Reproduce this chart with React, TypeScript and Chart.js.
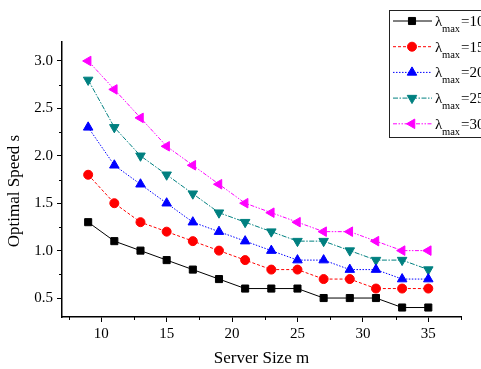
import React, { useEffect, useRef } from "react";
import { Chart, registerables } from "chart.js";
import { drawPoint } from "chart.js/helpers";

Chart.register(...registerables);

const xValues = [9, 11, 13, 15, 17, 19, 21, 23, 25, 27, 29, 31, 33, 35];
const lambda10 = [1.3, 1.1, 1.0, 0.9, 0.8, 0.7, 0.6, 0.6, 0.6, 0.5, 0.5, 0.5, 0.4, 0.4];
const lambda15 = [1.8, 1.5, 1.3, 1.2, 1.1, 1.0, 0.9, 0.8, 0.8, 0.7, 0.7, 0.6, 0.6, 0.6];
const lambda20 = [2.3, 1.9, 1.7, 1.5, 1.3, 1.2, 1.1, 1.0, 0.9, 0.9, 0.8, 0.8, 0.7, 0.7];
const lambda25 = [2.8, 2.3, 2.0, 1.8, 1.6, 1.4, 1.3, 1.2, 1.1, 1.1, 1.0, 0.9, 0.9, 0.8];
const lambda30 = [3.0, 2.7, 2.4, 2.1, 1.9, 1.7, 1.5, 1.4, 1.3, 1.2, 1.2, 1.1, 1.0, 1.0];
const lambdaLabels = ["10", "15", "20", "25", "30"];

const xMajorTicks = [10, 15, 20, 25, 30, 35];
const xMinorTicks = [7.5, 12.5, 17.5, 22.5, 27.5, 32.5, 37.5];
const yMajorTicks = [0.5, 1.0, 1.5, 2.0, 2.5, 3.0];
const yMinorTicks = [0.75, 1.25, 1.75, 2.25, 2.75];

const xTitle = "Server Size m";
const yTitle = "Optimal Speed s";

const SERIF = "'Liberation Serif', 'Times New Roman', serif";

const seriesValues = [lambda10, lambda15, lambda20, lambda25, lambda30];
const seriesStyles = [
  { color: "#000000", dash: [] as number[], point: "rect", radius: 5, rot: 0 },
  { color: "#ff0000", dash: [3, 2], point: "circle", radius: 4.5, rot: 0 },
  { color: "#0000ff", dash: [1.5, 1.5], point: "triangle", radius: 5.5, rot: 0 },
  { color: "#008080", dash: [5, 1.5, 1.5, 1.5], point: "triangle", radius: 5.5, rot: 180 },
  { color: "#ff00ff", dash: [4, 1.5, 1.5, 1.5, 1.5, 1.5], point: "triangle", radius: 5.5, rot: 270 },
];

const minorTicksPlugin = {
  id: "minorTicks",
  afterDraw(chart: any) {
    const ctx = chart.ctx;
    const xs = chart.scales.x;
    const ys = chart.scales.y;
    ctx.save();
    ctx.strokeStyle = "#000";
    ctx.lineWidth = 1;
    ctx.beginPath();
    xMinorTicks.forEach((v) => {
      const px = Math.round(xs.getPixelForValue(v)) + 0.5;
      ctx.moveTo(px, xs.top);
      ctx.lineTo(px, xs.top + 3);
    });
    yMinorTicks.forEach((v) => {
      const py = Math.round(ys.getPixelForValue(v)) + 0.5;
      ctx.moveTo(ys.right, py);
      ctx.lineTo(ys.right - 3, py);
    });
    ctx.stroke();
    // y title
    ctx.fillStyle = "#000";
    ctx.font = `17px ${SERIF}`;
    ctx.textAlign = "center";
    ctx.textBaseline = "middle";
    ctx.translate(15, 191);
    ctx.rotate(-Math.PI / 2);
    ctx.fillText(yTitle, 0, 0);
    ctx.restore();
  },
};

const legendPlugin = {
  id: "customLegend",
  afterDraw(chart: any) {
    const ctx = chart.ctx;
    ctx.save();
    ctx.strokeStyle = "#222";
    ctx.lineWidth = 1;
    ctx.strokeRect(389.5, 10.5, 120, 127);
    chart.data.datasets.forEach((ds: any, i: number) => {
      const y = 21 + i * 25.7;
      ctx.save();
      ctx.strokeStyle = ds.borderColor;
      ctx.lineWidth = 1;
      ctx.setLineDash(ds.borderDash || []);
      ctx.beginPath();
      ctx.moveTo(393, y);
      ctx.lineTo(432, y);
      ctx.stroke();
      ctx.restore();
      ctx.save();
      ctx.fillStyle = ds.pointBackgroundColor;
      ctx.strokeStyle = ds.pointBorderColor;
      ctx.lineWidth = 1;
      drawPoint(ctx, { pointStyle: ds.pointStyle, rotation: ds.pointRotation, radius: ds.pointRadius, borderWidth: 1 }, 412, y);
      ctx.restore();
      ctx.fillStyle = "#000";
      ctx.textAlign = "left";
      ctx.textBaseline = "alphabetic";
      ctx.font = `15px ${SERIF}`;
      ctx.fillText("\u03bb", 435, y + 5);
      ctx.font = `10.5px ${SERIF}`;
      ctx.fillText("max", 442, y + 11);
      ctx.font = `15px ${SERIF}`;
      ctx.fillText("=" + lambdaLabels[i], 461, y + 5);
    });
    ctx.restore();
  },
};

export default function App() {
  const ref = useRef<HTMLCanvasElement>(null);
  useEffect(() => {
    if (!ref.current) return;
    const datasets = seriesValues.map((vals, i) => {
      const s = seriesStyles[i];
      return {
        label: "\u03bbmax=" + lambdaLabels[i],
        data: vals.map((v, j) => ({ x: xValues[j], y: v })),
        borderColor: s.color,
        backgroundColor: s.color,
        borderWidth: 1,
        borderDash: s.dash,
        pointStyle: s.point,
        pointRadius: s.radius,
        pointRotation: s.rot,
        pointBackgroundColor: s.color,
        pointBorderColor: s.color,
        pointBorderWidth: 1,
        tension: 0,
        fill: false,
      };
    });
    const chart = new Chart(ref.current, {
      type: "line",
      data: { datasets },
      plugins: [minorTicksPlugin, legendPlugin],
      options: {
        animation: false,
        responsive: false,
        maintainAspectRatio: false,
        layout: { padding: { top: 42, right: 20, left: 0, bottom: 0 } },
        plugins: { legend: { display: false }, tooltip: { enabled: false } },
        scales: {
          x: {
            type: "linear",
            min: 7,
            max: 37.5,
            afterBuildTicks: (scale: any) => {
              scale.ticks = xMajorTicks.map((v) => ({ value: v }));
            },
            afterFit: (scale: any) => {
              scale.height = 52;
            },
            grid: { drawOnChartArea: false, drawTicks: true, tickLength: 5, color: "#000", tickColor: "#000" },
            border: { display: true, color: "#000", width: 1.5 },
            ticks: { color: "#000", font: { family: SERIF, size: 15 }, padding: 3, maxRotation: 0 },
            title: { display: true, text: xTitle, color: "#000", font: { family: SERIF, size: 17 }, padding: { top: 6, bottom: 0 } },
          },
          y: {
            type: "linear",
            min: 0.3,
            max: 3.2,
            afterBuildTicks: (scale: any) => {
              scale.ticks = yMajorTicks.map((v) => ({ value: v }));
            },
            afterFit: (scale: any) => {
              scale.width = 62;
            },
            grid: { drawOnChartArea: false, drawTicks: true, tickLength: 5, color: "#000", tickColor: "#000" },
            border: { display: true, color: "#000", width: 1.5 },
            ticks: { color: "#000", font: { family: SERIF, size: 15 }, padding: 4, callback: (v: any) => Number(v).toFixed(1) },
          },
        },
      },
    });
    return () => chart.destroy();
  }, []);
  return (
    <div style={{ position: "fixed", left: 0, top: 0, width: 481, height: 369, background: "#fff" }}>
      <canvas ref={ref} width={481} height={369} />
    </div>
  );
}
